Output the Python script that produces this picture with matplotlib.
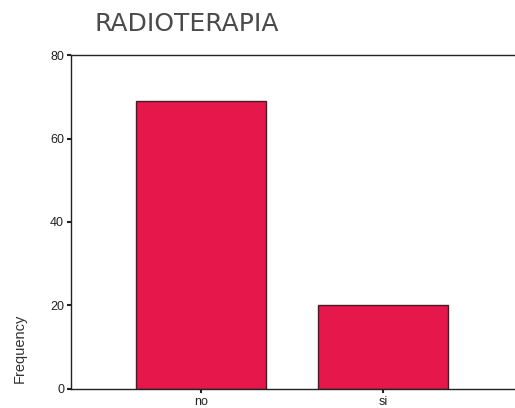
import matplotlib.pyplot as plt

categories = ['no', 'si']
frequency = [69, 20]

plt.rcParams['font.family'] = ['Liberation Sans', 'DejaVu Sans']

fig = plt.figure(figsize=(5.15, 4.08), dpi=100)
ax = fig.add_axes([0.138, 0.047, 0.862, 0.818])

x = range(len(categories))
ax.bar(x, frequency, width=0.714, color='#e5174b', edgecolor='#4a1a25', linewidth=1.0)

ax.set_xlim(-0.714, 1.725)
ax.set_ylim(0, 80)
ax.set_yticks([0, 20, 40, 60, 80])
ax.set_xticks(list(x))
ax.set_xticklabels(categories)

ax.spines['right'].set_visible(False)
for s in ['left', 'top', 'bottom']:
    ax.spines[s].set_color('#222222')
    ax.spines[s].set_linewidth(1.0)

ax.tick_params(axis='y', length=3, width=1.5, labelsize=9, pad=2, colors='#222222')
ax.tick_params(axis='x', length=3, width=1.5, labelsize=9, pad=2, colors='#222222')

ax.set_ylabel('Frequency', fontsize=10.5, color='#333333')
ax.yaxis.set_label_coords(-0.10, 0.12)

fig.text(0.183, 0.94, 'RADIOTERAPIA', fontsize=18, color='#4a4a4a', ha='left', va='center',
         family='DejaVu Sans')

fig.savefig('out.png', dpi=100)
